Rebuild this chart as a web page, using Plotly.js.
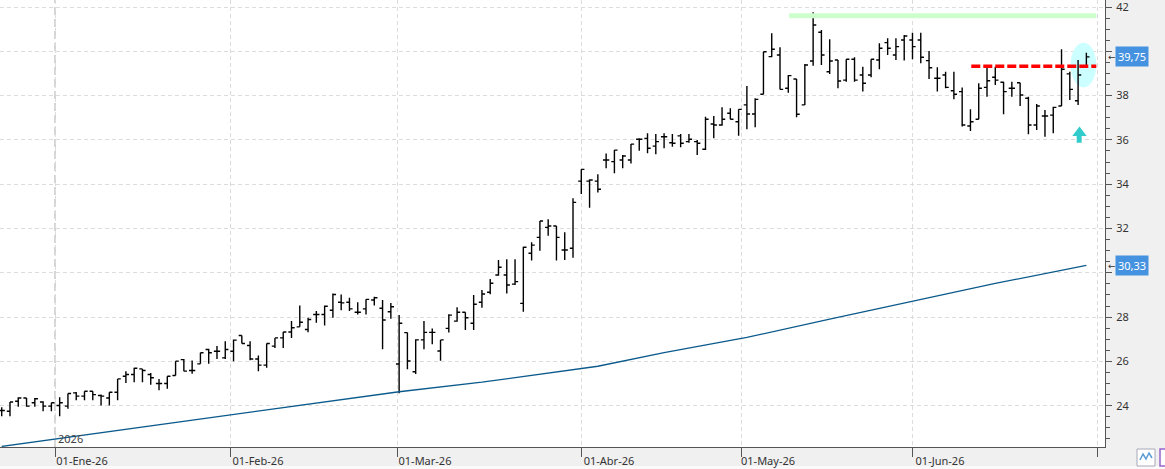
<!DOCTYPE html>
<html>
<head>
<meta charset="utf-8">
<script src="https://cdn.plot.ly/plotly-3.0.1.min.js"></script>
<style>
  html, body { margin: 0; padding: 0; background: #ffffff; }
  #chart { width: 1165px; height: 469px; }
</style>
</head>
<body>
<div id="chart"></div>
<script>
// ---- Data (one bar per trading session) ----
const openPx = [
  23.78, 23.75, 24.20, 24.35, 24.13, 24.17, 23.98, 24.01, 23.98, 24.58,
  24.43, 24.65, 24.46, 24.35, 24.61, 25.33, 25.41, 25.66, 25.41, 25.00,
  25.00, 25.36, 26.08, 25.59, 25.89, 26.54, 26.46, 26.16, 26.46, 27.17,
  26.72, 26.11, 25.83, 26.69, 27.06, 27.33, 27.56, 27.44, 28.12, 28.12,
  28.31, 28.67, 28.67, 28.22, 28.37, 28.77, 28.40, 28.24, 25.88, 27.30,
  25.53, 26.97, 27.31, 26.47, 27.49, 27.82, 28.22, 27.72, 28.67, 29.12,
  29.90, 29.90, 29.49, 28.62, 30.88, 31.60, 32.05, 32.11, 31.03, 31.11,
  34.14, 34.14, 34.14, 35.09, 35.02, 35.09, 35.09, 36.03, 36.07, 35.72,
  36.14, 35.87, 36.18, 35.92, 35.92, 35.58, 36.72, 36.67, 37.20, 36.82,
  37.58, 37.17, 38.06, 39.76, 39.83, 38.33, 38.75, 37.58, 39.56, 40.86,
  39.08, 39.61, 38.70, 39.64, 38.93, 38.93, 39.61, 40.39, 39.83, 40.51,
  40.51, 40.51, 39.58, 38.78, 38.93, 38.22, 38.18, 36.63, 36.93, 38.37,
  38.83, 38.60, 38.33, 38.58, 37.88, 36.67, 37.08, 37.12, 37.53, 38.98,
  37.77, 39.28
];
const highPx = [
  23.93, 24.17, 24.38, 24.35, 24.35, 24.20, 24.13, 24.38, 24.55, 24.62,
  24.65, 24.65, 24.50, 24.61, 25.21, 25.56, 25.71, 25.66, 25.48, 25.21,
  25.33, 26.01, 26.11, 26.04, 26.39, 26.57, 26.69, 26.91, 26.99, 27.17,
  26.91, 26.27, 26.81, 27.06, 27.33, 27.82, 28.52, 27.97, 28.27, 28.52,
  29.07, 29.02, 28.87, 28.67, 28.80, 28.92, 28.77, 28.64, 28.10, 27.30,
  27.00, 27.82, 27.49, 26.97, 28.13, 28.44, 28.22, 29.00, 29.22, 29.72,
  30.58, 30.61, 30.61, 31.18, 31.38, 32.34, 32.42, 32.11, 31.83, 33.36,
  34.67, 34.22, 34.45, 35.39, 35.54, 35.32, 35.81, 36.07, 36.30, 36.27,
  36.30, 36.27, 36.27, 36.27, 36.00, 37.05, 37.08, 37.47, 37.43, 37.38,
  38.43, 37.88, 39.98, 40.81, 40.18, 38.93, 38.75, 39.43, 41.76, 40.96,
  40.54, 39.61, 39.64, 39.73, 39.30, 39.64, 40.36, 40.59, 40.59, 40.74,
  40.84, 40.84, 40.01, 39.28, 39.08, 39.08, 38.37, 37.38, 38.56, 39.30,
  39.30, 38.63, 38.63, 38.58, 37.95, 37.62, 37.35, 37.50, 40.09, 39.08,
  39.61, 39.94
];
const lowPx = [
  23.52, 23.52, 23.95, 23.95, 23.95, 23.75, 23.75, 23.52, 23.86, 24.25,
  24.25, 24.25, 24.01, 24.01, 24.25, 25.03, 25.06, 25.06, 24.95, 24.70,
  24.77, 25.36, 25.56, 25.44, 25.89, 25.89, 26.11, 26.11, 26.01, 26.81,
  26.05, 25.56, 25.71, 26.61, 26.61, 27.06, 27.56, 27.32, 27.74, 27.62,
  27.97, 28.31, 28.27, 28.12, 28.12, 28.52, 26.55, 27.92, 24.56, 25.64,
  25.43, 26.55, 26.77, 26.03, 27.30, 27.79, 27.42, 27.42, 28.42, 29.03,
  29.87, 29.07, 29.45, 28.24, 30.55, 31.00, 31.67, 30.55, 30.58, 30.68,
  33.56, 32.94, 33.62, 34.72, 34.49, 34.72, 34.94, 35.51, 35.40, 35.35,
  35.62, 35.69, 35.67, 35.87, 35.32, 35.54, 36.07, 36.64, 36.93, 36.19,
  36.48, 36.57, 38.06, 39.73, 38.28, 38.13, 37.02, 37.58, 39.35, 39.38,
  38.98, 38.33, 38.63, 38.63, 38.18, 38.83, 39.19, 39.83, 39.61, 39.58,
  39.64, 39.46, 38.75, 38.18, 38.33, 37.83, 36.60, 36.40, 36.93, 37.95,
  38.48, 37.16, 37.95, 37.53, 36.25, 36.45, 36.14, 36.30, 37.53, 37.80,
  37.58, 39.28
];
const closePx = [
  23.78, 24.17, 24.35, 23.98, 24.31, 23.98, 24.13, 24.13, 24.55, 24.43,
  24.65, 24.50, 24.43, 24.61, 25.21, 25.41, 25.69, 25.59, 25.26, 25.00,
  25.33, 26.01, 25.56, 25.59, 26.39, 26.39, 26.46, 26.54, 26.96, 26.81,
  26.11, 25.83, 26.81, 27.06, 27.33, 27.52, 27.77, 27.89, 28.12, 28.49,
  29.02, 28.64, 28.37, 28.22, 28.80, 28.87, 27.87, 28.47, 27.72, 26.02,
  26.97, 27.31, 27.31, 26.97, 28.09, 28.22, 27.97, 28.58, 29.04, 29.53,
  30.25, 29.45, 29.60, 31.15, 31.25, 32.34, 32.11, 31.60, 31.03, 33.18,
  34.67, 34.19, 33.77, 35.09, 35.54, 35.27, 35.81, 36.03, 35.62, 35.92,
  36.14, 35.85, 35.85, 36.03, 35.85, 36.93, 36.67, 36.93, 36.93, 37.38,
  37.17, 37.83, 39.98, 40.09, 38.28, 38.90, 37.16, 39.38, 41.19, 39.83,
  39.56, 38.66, 39.64, 38.70, 38.56, 39.64, 40.14, 40.14, 40.21, 40.69,
  40.21, 39.73, 39.26, 38.78, 38.37, 38.06, 36.67, 36.82, 38.33, 38.67,
  38.70, 38.18, 38.33, 38.03, 36.67, 37.53, 37.08, 37.47, 39.19, 38.28,
  38.93, 39.75
];
// Long moving average, read at a few sessions (session index -> value)
const maSession = [0, 16, 28, 40, 48, 58, 66, 72, 80, 90, 100, 110, 120, 131];
const maValue   = [22.16, 22.98, 23.60, 24.21, 24.63, 25.06, 25.49, 25.78, 26.40, 27.08, 27.91, 28.73, 29.52, 30.33];

// Month ticks (session position of each month start) and their labels
const monthTickSession = [6.44, 27.69, 47.86, 70.08, 89.29, 110.06, 132.3];
const monthTickLabel   = ['01-Ene-26', '01-Feb-26', '01-Mar-26', '01-Abr-26', '01-May-26', '01-Jun-26', ''];
const priceTicks = [24, 26, 28, 30, 32, 34, 36, 38, 40, 42];
// 30 and 40 are hidden under the last-value boxes in the reference
const priceTickLabels = ['24', '26', '28', '', '32', '34', '36', '38', '', '42'];

// Drawn levels / labels
const resistanceLevel = 41.60;
const breakoutLevel = 39.32;
const lastClose = 39.75;
const lastMA = 30.33;
const yearLabel = '2026';

const fmt = v => v.toFixed(2).replace('.', ',');
const session = closePx.map((_, i) => i);

const FONT = 'Noto Sans, Open Sans, DejaVu Sans, sans-serif';

const traces = [
  {
    type: 'scatter', mode: 'lines',
    x: maSession, y: maValue,
    line: { color: '#0b5a8c', width: 1.3 },
    hoverinfo: 'skip'
  },
  {
    type: 'ohlc',
    x: session, open: openPx, high: highPx, low: lowPx, close: closePx,
    increasing: { line: { color: '#000000', width: 1.4 } },
    decreasing: { line: { color: '#000000', width: 1.4 } },
    tickwidth: 0.38,
    hoverinfo: 'skip'
  }
];

// pixel helpers for paper-positioned decorations (plot area 1105 x 447)
const px = p => p / 1105;
const py = p => (447 - p) / 447;

const layout = {
  width: 1165, height: 469,
  margin: { l: 0, r: 60, t: 0, b: 22, pad: 0 },
  paper_bgcolor: '#f0f0f0',
  plot_bgcolor: '#ffffff',
  showlegend: false,
  font: { family: FONT, size: 11, color: '#333333' },
  xaxis: {
    type: 'linear',
    range: [-0.205, 133.25],
    tickmode: 'array',
    tickvals: monthTickSession,
    ticktext: monthTickLabel,
    ticks: 'outside', ticklen: 9, tickcolor: '#555555', tickwidth: 1,
    showline: true, linecolor: '#555555', linewidth: 1,
    showgrid: true, gridcolor: '#dcdcdc', griddash: '4px,3px', gridwidth: 1,
    zeroline: false,
    rangeslider: { visible: false },
    ticklabelshift: 27,
    ticklabelstandoff: -5,
    tickfont: { family: FONT, size: 11, color: '#333333' },
    fixedrange: true
  },
  yaxis: {
    side: 'right',
    range: [22.135, 42.316],
    tickmode: 'array',
    tickvals: priceTicks,
    ticktext: priceTickLabels,
    ticks: 'outside', ticklen: 6, tickcolor: '#555555', tickwidth: 1,
    minor: { tickmode: 'linear', tick0: 0, dtick: 0.5, ticks: 'outside', ticklen: 3.5, tickcolor: '#555555', showgrid: false },
    showline: true, linecolor: '#555555', linewidth: 1,
    showgrid: true, gridcolor: '#dcdcdc', griddash: '4px,3px', gridwidth: 1,
    zeroline: false,
    ticklabelstandoff: 2,
    ticklabeloverflow: 'allow',
    tickfont: { family: FONT, size: 11, color: '#333333' },
    fixedrange: true
  },
  shapes: [
    // year separator
    { type: 'line', xref: 'x', yref: 'paper', x0: monthTickSession[0], x1: monthTickSession[0], y0: 0, y1: 1,
      line: { color: '#c8c8c8', width: 1.5, dash: '8px,4px' }, layer: 'between' },
    // highlight ellipse
    { type: 'circle', xref: 'x', yref: 'y', x0: 129.1, x1: 132.2, y0: 38.37, y1: 40.39,
      fillcolor: '#ccffff', line: { width: 0 }, layer: 'between' },
    // resistance band
    { type: 'line', xref: 'x', yref: 'y', x0: 95.1, x1: 132.2, y0: resistanceLevel, y1: resistanceLevel,
      line: { color: '#ccffcc', width: 5 }, layer: 'above' },
    // breakout dashed line
    { type: 'line', xref: 'x', yref: 'y', x0: 117.1, x1: 132.2, y0: breakoutLevel, y1: breakoutLevel,
      line: { color: '#ff0000', width: 3.5, dash: '9px,3px' }, layer: 'above' },
    // up arrow
    { type: 'path', xref: 'x', yref: 'y',
      path: 'M 129.30,36.18 L 130.17,36.60 L 131.04,36.18 L 130.43,36.18 L 130.43,35.87 L 129.83,35.87 L 129.83,36.18 Z',
      fillcolor: '#33cccc', line: { width: 0 }, layer: 'above' },
    // bottom light strip
    { type: 'rect', xref: 'paper', yref: 'paper', x0: -0.01, x1: px(1170), y0: py(466), y1: py(470),
      fillcolor: '#fafafa', line: { width: 0 }, layer: 'below' },
    // small toolbar icons bottom right
    { type: 'rect', xref: 'paper', yref: 'paper', x0: px(1137), x1: px(1155), y0: py(449), y1: py(466),
      fillcolor: '#ffffff', line: { color: '#a8a8b8', width: 1 }, layer: 'above' },
    { type: 'path', xref: 'paper', yref: 'paper',
      path: `M ${px(1140)},${py(460)} L ${px(1143)},${py(454)} L ${px(1146)},${py(459)} L ${px(1149)},${py(453)} L ${px(1152)},${py(458)}`,
      line: { color: '#5b9bd5', width: 1.5 }, layer: 'above' },
    { type: 'rect', xref: 'paper', yref: 'paper', x0: px(1160), x1: px(1180), y0: py(449), y1: py(466),
      fillcolor: '#ffffff', line: { color: '#9966cc', width: 1.5 }, layer: 'above' }
  ],
  annotations: [
    { xref: 'x', yref: 'paper', x: monthTickSession[0], y: py(438), xanchor: 'left', yanchor: 'middle',
      xshift: 1, text: yearLabel, showarrow: false, font: { family: FONT, size: 11, color: '#444444' } },
    { xref: 'paper', yref: 'y', x: px(1115), y: lastClose, xanchor: 'left', yanchor: 'middle',
      text: fmt(lastClose), showarrow: false, bgcolor: '#4492e0', borderpad: 2,
      font: { family: FONT, size: 11, color: '#ffffff' } },
    { xref: 'paper', yref: 'y', x: px(1115), y: lastMA, xanchor: 'left', yanchor: 'middle',
      text: fmt(lastMA), showarrow: false, bgcolor: '#4492e0', borderpad: 2,
      font: { family: FONT, size: 11, color: '#ffffff' } },
    { xref: 'paper', yref: 'y', x: px(1106), y: lastClose, xanchor: 'left', yanchor: 'middle',
      text: '←', showarrow: false, font: { family: FONT, size: 9, color: '#333333' } },
    { xref: 'paper', yref: 'y', x: px(1106), y: lastMA, xanchor: 'left', yanchor: 'middle',
      text: '←', showarrow: false, font: { family: FONT, size: 9, color: '#333333' } }
  ]
};

Plotly.newPlot('chart', traces, layout, { displayModeBar: false, staticPlot: true });
</script>
</body>
</html>
